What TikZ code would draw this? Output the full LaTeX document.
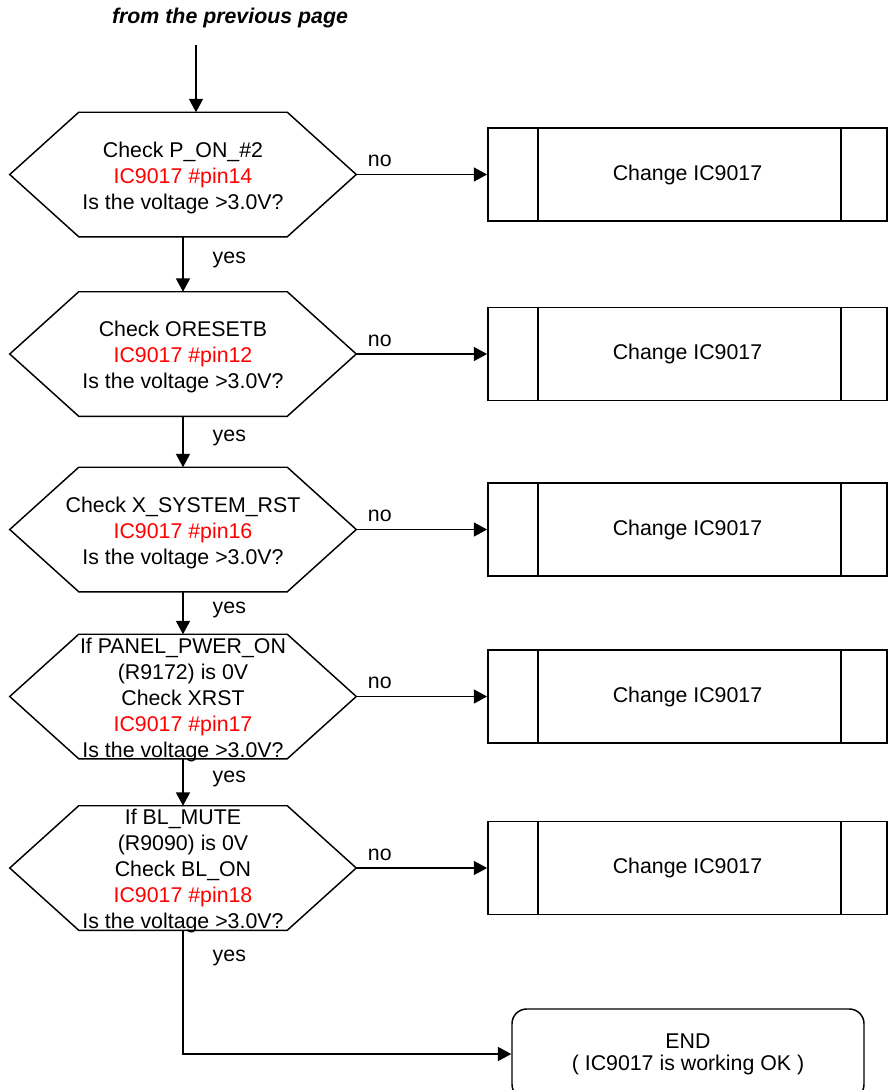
\documentclass[tikz,border=0pt]{standalone}
\usepackage{fontspec}
\setmainfont{Liberation Sans}
\usetikzlibrary{arrows.meta}

\begin{document}
\begin{tikzpicture}[x=0.75pt, y=-0.75pt, >={Triangle[length=10pt, width=10.5pt]},
  txt/.style={font=\fontsize{16}{19.5}\selectfont},
  chk/.style={minimum width=259.5pt, minimum height=93pt, inner sep=0pt},
  chgbox/.style={txt, draw, line width=1.3pt, minimum width=299.25pt, minimum height=69.75pt},
  endbox/.style={draw, line width=1.1pt, rounded corners=11pt, minimum width=264pt,
    minimum height=67.5pt, align=center, font=\fontsize{16}{16.5}\selectfont},
  flow/.style={->, line width=1.1pt},
  yeslbl/.style={txt, right, inner sep=0pt, xshift=21.75pt}]
  \useasboundingbox (0,0) rectangle (888,1090);
  % where we come from
  \node[font=\fontsize{16}{19}\selectfont\bfseries\itshape] (src) at (230,18) {from the previous page};
  \coordinate (in) at (196,45);
  % the five checks and their "change" boxes
  \foreach \i/\y/\txt in {
      1/174.5/{Check P\_ON\_\#2\\\textcolor{red}{IC9017 \#pin14}\\Is the voltage >3.0V?},
      2/354/{Check ORESETB\\\textcolor{red}{IC9017 \#pin12}\\Is the voltage >3.0V?},
      3/529.5/{Check X\_SYSTEM\_RST\\\textcolor{red}{IC9017 \#pin16}\\Is the voltage >3.0V?},
      4/696.5/{If PANEL\_PWER\_ON\\(R9172) is 0V\\Check XRST\\\textcolor{red}{IC9017 \#pin17}\\Is the voltage >3.0V?},
      5/868/{If BL\_MUTE\\(R9090) is 0V\\Check BL\_ON\\\textcolor{red}{IC9017 \#pin18}\\Is the voltage >3.0V?}} {
    \node[chk] (q\i) at (183,\y) {};
    \draw[line width=1.1pt] (q\i.west) -- ([xshift=51.75pt]q\i.north west)
      -- ([xshift=-51.75pt]q\i.north east) -- (q\i.east)
      -- ([xshift=-51.75pt]q\i.south east) -- ([xshift=51.75pt]q\i.south west) -- cycle;
    \node[txt, align=center, inner sep=0pt] (t\i) at ([yshift=-2.5pt]q\i.center) {\txt};
    \node[chgbox] (c\i) at (687.5,\y) {Change IC9017};
    \draw[line width=1.1pt] ([xshift=38.25pt]c\i.north west) -- ([xshift=38.25pt]c\i.south west);
    \draw[line width=1.1pt] ([xshift=-35.25pt]c\i.north east) -- ([xshift=-35.25pt]c\i.south east);
    \draw[flow] (q\i.east) -- node[txt, pos=0.18, above, inner sep=5pt] {no} (c\i.west);
  }
  \node[endbox] (fin) at (688,1054) {END\\( IC9017 is working OK )};
  % connectors
  \draw[flow] (in) -- (in |- q1.north);
  \foreach \i [count=\j from 2] in {1,...,4}
    \draw[flow] (q\i.south) -- node[yeslbl, pos=0.42] {yes} (q\j.north);
  \draw[flow] (q5.south) |- node[yeslbl, pos=0.11] {yes} (fin.west);
\end{tikzpicture}
\end{document}
